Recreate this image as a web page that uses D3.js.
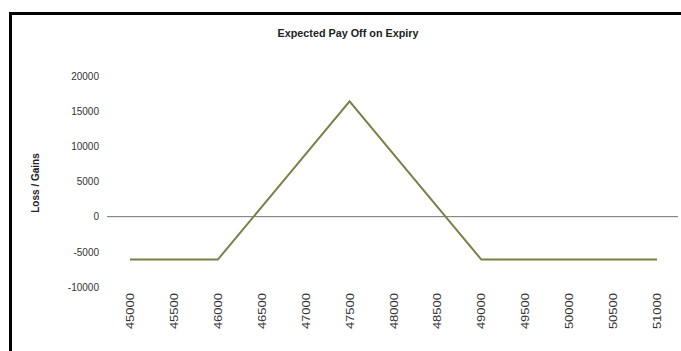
<!DOCTYPE html>
<html>
<head>
<meta charset="utf-8">
<script src="https://cdn.jsdelivr.net/npm/d3@7"></script>
<style>
  body { margin: 0; background: #fff; }
  svg { display: block; font-family: "Liberation Sans", Arial, sans-serif; }
  .tick text { fill: #333; font-size: 10px; }
</style>
</head>
<body>
<svg id="chart" width="681" height="351"></svg>
<script>
// strike prices along the x axis and pay off at each one
const strikes = [45000, 45500, 46000, 46500, 47000, 47500, 48000, 48500, 49000, 49500, 50000, 50500, 51000];
const payoff = [-6100, -6100, -6100, 1400, 8900, 16400, 8900, 1400, -6100, -6100, -6100, -6100, -6100];
const yTicks = [-10000, -5000, 0, 5000, 10000, 15000, 20000];

const svg = d3.select("#chart");

// frame: thick line along top and left only
svg.append("line").attr("x1", 9).attr("x2", 681).attr("y1", 13.5).attr("y2", 13.5)
    .attr("stroke", "#000").attr("stroke-width", 3);
svg.append("line").attr("x1", 10.5).attr("x2", 10.5).attr("y1", 12).attr("y2", 351)
    .attr("stroke", "#000").attr("stroke-width", 3);

const x = d3.scaleLinear().domain([45000, 51000]).range([130, 657]);
const y = d3.scaleLinear().domain([-10000, 20000]).range([287, 76]);

svg.append("text")
    .attr("x", 348).attr("y", 37)
    .attr("text-anchor", "middle")
    .style("font-size", "10.8px").style("font-weight", "bold").style("fill", "#222")
    .text("Expected  Pay Off on Expiry");

// y axis labels only
const yAxis = svg.append("g")
    .attr("transform", "translate(100,0)")
    .call(d3.axisLeft(y).tickValues(yTicks).tickSize(0).tickPadding(1).tickFormat(d => String(d)));
yAxis.select(".domain").remove();

// x axis labels, rotated (stretched a bit along their length like the original)
const xAxis = svg.append("g")
    .attr("transform", "translate(0,293)")
    .call(d3.axisBottom(x).tickValues(strikes).tickSize(0).tickPadding(0).tickFormat(d => String(d)));
xAxis.select(".domain").remove();
xAxis.selectAll("text")
    .attr("transform", "rotate(-90) scale(1.3,1)")
    .attr("text-anchor", "end")
    .attr("x", 0).attr("y", 0).attr("dy", "0.35em");

svg.append("text")
    .attr("transform", "translate(39,183) rotate(-90)")
    .attr("text-anchor", "middle")
    .style("font-size", "10px").style("font-weight", "bold").style("fill", "#222")
    .text("Loss / Gains");

// zero line
svg.append("line")
    .attr("x1", 107).attr("x2", 678)
    .attr("y1", y(0)).attr("y2", y(0))
    .attr("stroke", "#6e766e").attr("stroke-width", 1);

const line = d3.line().x((d, i) => x(strikes[i])).y(d => y(d));
svg.append("path")
    .datum(payoff)
    .attr("d", line)
    .attr("fill", "none")
    .attr("stroke", "#7d7d45")
    .attr("stroke-width", 2);
</script>
</body>
</html>
